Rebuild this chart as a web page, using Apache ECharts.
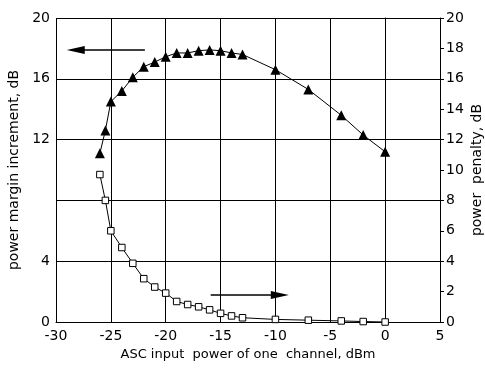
<!DOCTYPE html>
<html><head><meta charset="utf-8">
<script src="https://cdn.jsdelivr.net/npm/echarts@6/dist/echarts.min.js"></script>
<style>html,body{margin:0;padding:0;background:#fff}#c{width:485px;height:374px}</style>
</head><body><div id="c"></div>
<script>
// Data
const inputPower = [-26, -25.5, -25, -24, -23, -22, -21, -20, -19, -18, -17, -16, -15, -14, -13, -10, -7, -4, -2, 0];
const marginIncrement = [11.1, 12.6, 14.5, 15.2, 16.1, 16.8, 17.1, 17.45, 17.7, 17.7, 17.85, 17.9, 17.85, 17.7, 17.6, 16.6, 15.3, 13.6, 12.3, 11.2];
const powerPenalty = [9.7, 8.0, 6.0, 4.9, 3.86, 2.85, 2.3, 1.9, 1.35, 1.15, 1.0, 0.8, 0.57, 0.4, 0.28, 0.17, 0.12, 0.07, 0.03, 0.0];
const leftTickHidden = [8];
const leftArrow = [[-21.9, 17.9], [-28.2, 17.9]];
const rightArrow = [[-15.9, 1.78], [-9.6, 1.78]];

const FONT = 'DejaVu Sans';
const chart = echarts.init(document.getElementById('c'));
const axisLine = {show: true, lineStyle: {color: '#000', width: 1}};
chart.setOption({
  animation: false,
  backgroundColor: '#fff',
  textStyle: {fontFamily: FONT, color: '#000'},
  grid: {left: 56, right: 45, top: 18, bottom: 52, containLabel: false, outerBoundsMode: 'none'},
  xAxis: {
    type: 'value', min: -30, max: 5, interval: 5,
    name: 'ASC input  power of one  channel, dBm',
    nameLocation: 'middle', nameGap: 26,
    nameTextStyle: {fontFamily: FONT, fontSize: 13, color: '#000'},
    axisLine: axisLine,
    axisTick: {show: false},
    axisLabel: {fontFamily: FONT, fontSize: 14, color: '#000', margin: 7},
    splitLine: {show: true, lineStyle: {color: '#000', width: 1}}
  },
  yAxis: [{
    type: 'value', min: 0, max: 20, interval: 4, position: 'left',
    name: 'power margin increment, dB',
    nameLocation: 'middle', nameRotate: 90, nameGap: 34,
    nameTextStyle: {fontFamily: FONT, fontSize: 14, color: '#000'},
    axisLine: axisLine,
    axisTick: {show: true, inside: false, length: 4, lineStyle: {color: '#000'}},
    axisLabel: {fontFamily: FONT, fontSize: 14, color: '#000', margin: 6,
      formatter: v => leftTickHidden.includes(v) ? '' : String(v)},
    splitLine: {show: true, lineStyle: {color: '#000', width: 1}}
  }, {
    type: 'value', min: 0, max: 20, interval: 2, position: 'right',
    name: 'power  penalty, dB',
    nameLocation: 'middle', nameRotate: 90, nameGap: 30, nameMoveOverlap: false,
    nameTextStyle: {fontFamily: FONT, fontSize: 14, color: '#000'},
    axisLine: axisLine,
    axisTick: {show: true, inside: false, length: 4, lineStyle: {color: '#000'}},
    axisLabel: {fontFamily: FONT, fontSize: 14, color: '#000', margin: 6},
    splitLine: {show: false}
  }],
  series: [{
    type: 'line', yAxisIndex: 0,
    data: inputPower.map((x, i) => [x, marginIncrement[i]]),
    symbol: 'triangle', symbolSize: 10,
    itemStyle: {color: '#000'},
    lineStyle: {color: '#000', width: 1},
    markLine: {
      silent: true, symbol: ['none', 'triangle'], symbolSize: [8, 18],
      label: {show: false},
      lineStyle: {color: '#000', width: 1.5, type: 'solid'},
      data: [[{coord: leftArrow[0]}, {coord: leftArrow[1]}]]
    }
  }, {
    type: 'line', yAxisIndex: 1,
    data: inputPower.map((x, i) => [x, powerPenalty[i]]),
    symbol: 'rect', symbolSize: 6.5, showAllSymbol: true,
    itemStyle: {color: '#fff', borderColor: '#000', borderWidth: 1},
    lineStyle: {color: '#000', width: 1},
    markLine: {
      silent: true, symbol: ['none', 'triangle'], symbolSize: [8, 18],
      label: {show: false},
      lineStyle: {color: '#000', width: 1.5, type: 'solid'},
      data: [[{coord: rightArrow[0]}, {coord: rightArrow[1]}]]
    }
  }]
});
</script></body></html>
